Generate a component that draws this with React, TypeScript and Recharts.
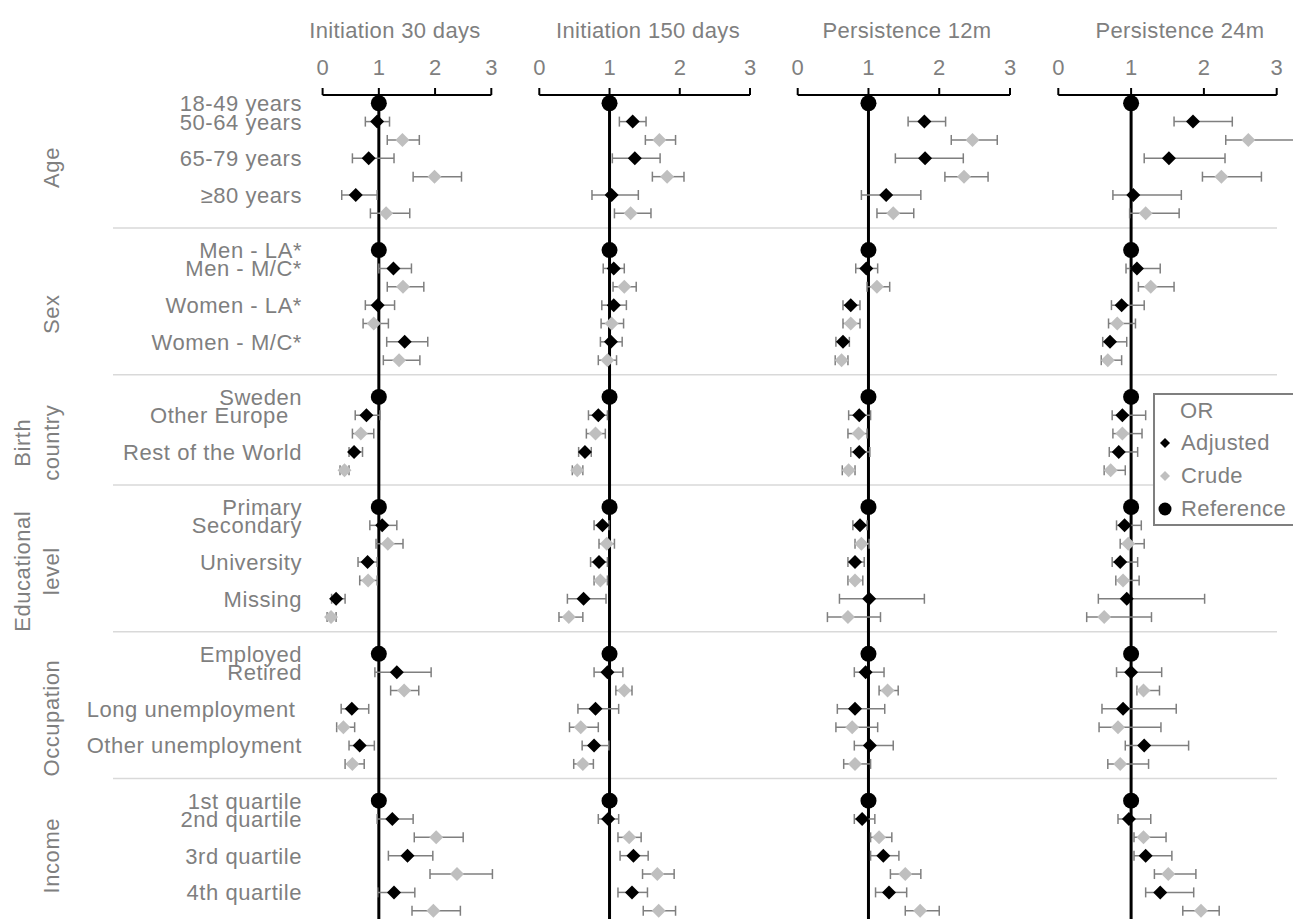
import React from 'react';
import { ScatterChart, Scatter, XAxis, YAxis, ErrorBar, ReferenceLine } from 'recharts';

// odds ratios: [OR, lower CI, upper CI], one entry per non-reference level
type Ci = [number, number, number];

const groups = [
    { label: ['Age'], reference: '18-49 years', levels: ['50-64 years', '65-79 years', '≥80 years'] },
    { label: ['Sex'], reference: 'Men - LA*', levels: ['Men - M/C*', 'Women - LA*', 'Women - M/C*'] },
    { label: ['Birth', 'country'], reference: 'Sweden', levels: ['Other Europe\u00a0\u00a0', 'Rest of the World'] },
    { label: ['Educational', 'level'], reference: 'Primary', levels: ['Secondary', 'University', 'Missing'] },
    { label: ['Occupation'], reference: 'Employed', levels: ['Retired', 'Long unemployment\u00a0', 'Other unemployment'] },
    { label: ['Income'], reference: '1st quartile', levels: ['2nd quartile', '3rd quartile', '4th quartile'] },
];

const xTicks = [0, 1, 2, 3];

const init30Adjusted: Ci[] = [
    [0.97, 0.76, 1.19], [0.82, 0.53, 1.27], [0.59, 0.34, 0.97],
    [1.26, 1.0, 1.58], [0.98, 0.76, 1.28], [1.46, 1.14, 1.87],
    [0.78, 0.58, 1.02], [0.56, 0.47, 0.71],
    [1.06, 0.84, 1.32], [0.8, 0.63, 0.97], [0.24, 0.16, 0.4],
    [1.32, 0.93, 1.93], [0.52, 0.33, 0.82], [0.66, 0.47, 0.92],
    [1.24, 0.97, 1.61], [1.51, 1.17, 1.96], [1.27, 0.98, 1.64],
];
const init30Crude: Ci[] = [
    [1.42, 1.15, 1.72], [1.99, 1.61, 2.47], [1.13, 0.85, 1.55],
    [1.43, 1.15, 1.8], [0.91, 0.72, 1.17], [1.36, 1.08, 1.73],
    [0.68, 0.53, 0.91], [0.39, 0.31, 0.47],
    [1.16, 0.95, 1.43], [0.81, 0.66, 0.97], [0.15, 0.08, 0.24],
    [1.45, 1.21, 1.71], [0.37, 0.25, 0.57], [0.53, 0.4, 0.74],
    [2.02, 1.63, 2.5], [2.39, 1.91, 3.02], [1.97, 1.59, 2.45],
];
const init150Adjusted: Ci[] = [
    [1.33, 1.14, 1.52], [1.36, 1.04, 1.72], [1.03, 0.75, 1.41],
    [1.06, 0.91, 1.21], [1.06, 0.89, 1.24], [1.02, 0.87, 1.18],
    [0.84, 0.7, 0.97], [0.65, 0.56, 0.74],
    [0.9, 0.78, 0.99], [0.85, 0.73, 0.97], [0.63, 0.4, 0.95],
    [0.97, 0.78, 1.19], [0.8, 0.55, 1.13], [0.78, 0.61, 0.99],
    [0.98, 0.84, 1.13], [1.34, 1.15, 1.55], [1.32, 1.12, 1.54],
];
const init150Crude: Ci[] = [
    [1.71, 1.51, 1.94], [1.82, 1.61, 2.06], [1.3, 1.07, 1.59],
    [1.21, 1.05, 1.38], [1.03, 0.88, 1.2], [0.97, 0.84, 1.1],
    [0.8, 0.67, 0.94], [0.54, 0.47, 0.62],
    [0.96, 0.85, 1.07], [0.87, 0.78, 0.97], [0.42, 0.28, 0.62],
    [1.21, 1.09, 1.32], [0.59, 0.43, 0.84], [0.62, 0.49, 0.77],
    [1.28, 1.12, 1.45], [1.68, 1.47, 1.92], [1.7, 1.48, 1.94],
];
const pers12Adjusted: Ci[] = [
    [1.79, 1.56, 2.09], [1.8, 1.38, 2.34], [1.25, 0.9, 1.74],
    [0.97, 0.82, 1.13], [0.75, 0.64, 0.88], [0.64, 0.54, 0.73],
    [0.87, 0.72, 1.03], [0.87, 0.75, 1.02],
    [0.88, 0.78, 0.98], [0.81, 0.71, 0.94], [1.01, 0.59, 1.79],
    [0.96, 0.8, 1.22], [0.81, 0.56, 1.23], [1.02, 0.8, 1.35],
    [0.91, 0.8, 1.09], [1.21, 1.03, 1.43], [1.29, 1.1, 1.54],
];
const pers12Crude: Ci[] = [
    [2.47, 2.17, 2.82], [2.35, 2.08, 2.69], [1.35, 1.12, 1.64],
    [1.12, 0.98, 1.3], [0.75, 0.64, 0.88], [0.62, 0.53, 0.71],
    [0.86, 0.71, 0.98], [0.72, 0.63, 0.81],
    [0.9, 0.81, 1.01], [0.81, 0.71, 0.92], [0.71, 0.42, 1.17],
    [1.27, 1.15, 1.42], [0.77, 0.54, 1.13], [0.81, 0.65, 1.03],
    [1.15, 1.03, 1.33], [1.52, 1.31, 1.74], [1.73, 1.52, 2.0],
];
const pers24Adjusted: Ci[] = [
    [1.85, 1.59, 2.39], [1.52, 1.18, 2.29], [1.03, 0.75, 1.69],
    [1.08, 0.93, 1.4], [0.87, 0.73, 1.18], [0.71, 0.61, 0.94],
    [0.88, 0.74, 1.2], [0.83, 0.7, 1.09],
    [0.91, 0.8, 1.14], [0.85, 0.74, 1.09], [0.94, 0.55, 2.01],
    [1.0, 0.8, 1.42], [0.89, 0.6, 1.62], [1.18, 0.92, 1.79],
    [0.97, 0.82, 1.27], [1.2, 1.04, 1.56], [1.4, 1.2, 1.86],
];
const pers24Crude: Ci[] = [
    [2.61, 2.3, 3.25], [2.24, 1.98, 2.79], [1.2, 0.98, 1.66],
    [1.27, 1.1, 1.59], [0.81, 0.69, 1.06], [0.68, 0.59, 0.87],
    [0.88, 0.75, 1.15], [0.72, 0.63, 0.92],
    [0.96, 0.85, 1.18], [0.89, 0.79, 1.11], [0.63, 0.39, 1.28],
    [1.17, 1.08, 1.39], [0.82, 0.56, 1.41], [0.85, 0.68, 1.24],
    [1.17, 1.04, 1.48], [1.51, 1.32, 1.89], [1.96, 1.71, 2.21],
];

const FONT = '"Liberation Sans", Arial, sans-serif';
const TEXT = '#7f7f7f';
const H = 919;
const Y_DOMAIN: [number, number] = [-0.45, 44.45];
const LABEL_W = 200;
const SPACING = 0.55;

// row slots: reference row, then adjusted/crude pairs, one empty slot between groups
let cursor = 0;
const layout = groups.map((g, gi) => {
    const start = cursor;
    const levelSlots = g.levels.map((_, i) => start + 1 + 2 * i);
    const end = start + 2 * g.levels.length;
    cursor = end + 2;
    const last = gi === groups.length - 1;
    return { ...g, start, end, levelSlots, labelSlot: last ? (start + end) / 2 : (start + end + 1) / 2 };
});

const levelSlots = layout.flatMap(g => g.levelSlots);
const separatorSlots = layout.slice(1).map(g => g.start - 1.2);
const rowLabelBySlot: Record<number, string> = {};
layout.forEach(g => {
    rowLabelBySlot[g.start] = g.reference;
    g.levels.forEach((l, i) => { rowLabelBySlot[g.levelSlots[i]] = l; });
});
const rowLabelSlots = Object.keys(rowLabelBySlot).map(Number);
const groupLabelSlots = layout.map(g => g.labelSlot);
const refPoints = layout.map(g => ({ x: 1, y: g.start }));
// invisible anchor points so the background axes have a data extent
const anchorPoints = [{ x: 0, y: Y_DOMAIN[0] }, { x: 1, y: Y_DOMAIN[1] }];

const toPoints = (values: Ci[], offset: number) =>
    values.map(([or, lo, hi], i) => ({ x: or, y: levelSlots[i] + offset, err: [or - lo, hi - or] }));

const panels = [
    { title: 'Initiation 30 days', adjusted: init30Adjusted, crude: init30Crude, left: 0, width: 510, plotLeft: 322.6, plotRight: 491.3, titleX: 395 },
    { title: 'Initiation 150 days', adjusted: init150Adjusted, crude: init150Crude, left: 520, width: 250, plotLeft: 539.3, plotRight: 750, titleX: 648 },
    { title: 'Persistence 12m', adjusted: pers12Adjusted, crude: pers12Crude, left: 780, width: 250, plotLeft: 797.7, plotRight: 1010, titleX: 907 },
    { title: 'Persistence 24m', adjusted: pers24Adjusted, crude: pers24Crude, left: 1040, width: 253, plotLeft: 1058.3, plotRight: 1276.7, titleX: 1180 },
];

const diamond = (fill: string, r: number) => (props: any) => {
    const { cx, cy } = props;
    return <path d={`M${cx},${cy - r}L${cx + r},${cy}L${cx},${cy + r}L${cx - r},${cy}Z`} fill={fill} />;
};
const refDot = (props: any) => <circle cx={props.cx} cy={props.cy} r={8} fill="#000" />;
const nothing = () => <g />;

const GroupTick = (props: any) => {
    const { x, y, payload } = props;
    const g = layout.find(l => l.labelSlot === payload.value);
    if (!g) return <g />;
    const n = g.label.length;
    return (
        <g transform={`translate(${x},${y}) rotate(-90)`}>
            <text textAnchor="middle" fill={TEXT} fontSize={22} fontFamily={FONT} letterSpacing={SPACING}>
                {g.label.map((line, i) => (
                    <tspan key={line} x={0} y={(i - (n - 1)) * 29 + 8}>{line}</tspan>
                ))}
            </text>
        </g>
    );
};

const RowTick = (props: any) => {
    const { x, y, payload } = props;
    return (
        <text x={x} y={y} dy={7.9} textAnchor="end" fill={TEXT} fontSize={22} fontFamily={FONT} letterSpacing={SPACING}>
            {rowLabelBySlot[payload.value] ?? ''}
        </text>
    );
};

const Panel = ({ panel, showLabels }: { panel: typeof panels[number]; showLabels: boolean }) => {
    const ml = panel.plotLeft - panel.left - (showLabels ? LABEL_W : 0);
    const mr = panel.left + panel.width - panel.plotRight;
    return (
        <div style={{ position: 'absolute', left: panel.left, top: 0 }}>
            <ScatterChart width={panel.width} height={H} margin={{ top: 0, right: mr, bottom: 0, left: ml }}>
                <XAxis type="number" dataKey="x" orientation="top" domain={[0, 3]} ticks={xTicks} allowDataOverflow height={95}
                    axisLine={{ stroke: '#000', strokeWidth: 2 }} tickLine={{ stroke: '#000', strokeWidth: 2 }}
                    tickSize={7} tickMargin={13} tick={{ fill: TEXT, fontSize: 22, fontFamily: FONT }} />
                <YAxis type="number" dataKey="y" domain={Y_DOMAIN} reversed allowDataOverflow hide={!showLabels} width={LABEL_W}
                    ticks={rowLabelSlots} interval={0}
                    axisLine={false} tickLine={false} tickSize={6} tickMargin={14.6}
                    tick={(p: any) => <RowTick {...p} />} />
                <ReferenceLine x={1} stroke="#000" strokeWidth={3} />
                <Scatter data={toPoints(panel.adjusted, 0)} shape={diamond('#000', 7)} isAnimationActive={false}>
                    <ErrorBar dataKey="err" direction="x" stroke="#7f7f7f" strokeWidth={1.5} width={5} isAnimationActive={false} />
                </Scatter>
                <Scatter data={toPoints(panel.crude, 1)} shape={diamond('#bfbfbf', 7)} isAnimationActive={false}>
                    <ErrorBar dataKey="err" direction="x" stroke="#7f7f7f" strokeWidth={1.5} width={5} isAnimationActive={false} />
                </Scatter>
                <Scatter data={refPoints} shape={refDot} isAnimationActive={false} />
            </ScatterChart>
        </div>
    );
};

const legendRows = [
    { name: 'Adjusted', symbol: <path d="M10,3L15,8L10,13L5,8Z" fill="#000" /> },
    { name: 'Crude', symbol: <path d="M10,3L15,8L10,13L5,8Z" fill="#bfbfbf" /> },
    { name: 'Reference', symbol: <circle cx={10} cy={8} r={6.5} fill="#000" /> },
];

const App: React.FC = () => {
    return (
        <div style={{ position: 'fixed', left: 0, top: 0, width: 1293, height: H, overflow: 'hidden', background: '#fff', fontFamily: FONT }}>
            <div style={{ position: 'absolute', left: 0, top: 0 }}>
                <ScatterChart width={1293} height={H} margin={{ top: 95, right: 16, bottom: 0, left: 0 }}>
                    <XAxis type="number" dataKey="x" domain={[0, 1]} hide />
                    <YAxis type="number" dataKey="y" domain={Y_DOMAIN} reversed allowDataOverflow width={113}
                        ticks={groupLabelSlots} interval={0} axisLine={false} tickLine={false} tickSize={0} tickMargin={62}
                        tick={(p: any) => <GroupTick {...p} />} />
                    {separatorSlots.map(s => (
                        <ReferenceLine key={s} y={s} stroke="#d9d9d9" strokeWidth={1.5} ifOverflow="visible" />
                    ))}
                    <Scatter data={anchorPoints} shape={nothing} isAnimationActive={false} />
                </ScatterChart>
            </div>
            {panels.map((p, i) => (
                <React.Fragment key={p.title}>
                    <div style={{ position: 'absolute', left: p.titleX - 150, top: 18, width: 300, textAlign: 'center', color: TEXT, fontSize: 22, letterSpacing: 0.35 }}>
                        {p.title}
                    </div>
                    <Panel panel={p} showLabels={i === 0} />
                </React.Fragment>
            ))}
            <div style={{ position: 'absolute', left: 1153, top: 393, width: 170, height: 133, boxSizing: 'border-box', border: '2px solid #7f7f7f', background: '#fff', color: TEXT, fontSize: 22, letterSpacing: 0.4 }}>
                <div style={{ position: 'absolute', left: 25, top: 3, lineHeight: '25px' }}>OR</div>
                {legendRows.map((r, i) => (
                    <div key={r.name} style={{ position: 'absolute', left: 0, top: 35 + i * 33, height: 25, lineHeight: '25px', display: 'flex', alignItems: 'center' }}>
                        <svg width={20} height={16}>{r.symbol}</svg>
                        <span style={{ marginLeft: 6 }}>{r.name}</span>
                    </div>
                ))}
            </div>
        </div>
    );
};

export default App;
